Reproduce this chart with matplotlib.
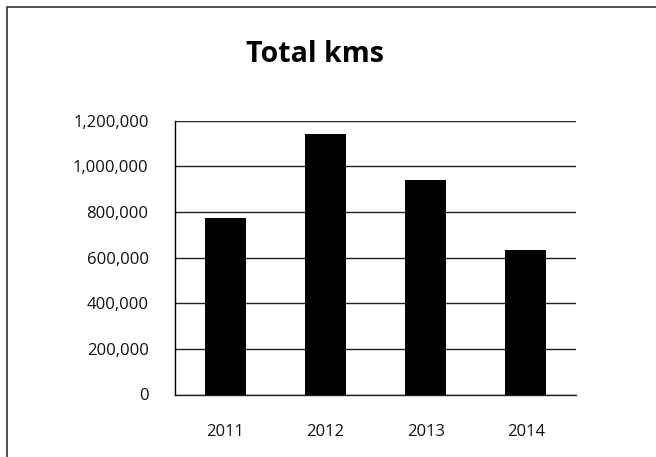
import matplotlib
matplotlib.use("Agg")
import matplotlib.pyplot as plt
from matplotlib.patches import Rectangle
from matplotlib.ticker import FuncFormatter

plt.rcParams['font.family'] = ['Open Sans', 'DejaVu Sans']

# yearly totals
years = ['2011', '2012', '2013', '2014']
total_kms = [775000, 1140000, 940000, 635000]
y_ticks = [0, 200000, 400000, 600000, 800000, 1000000, 1200000]

W, H = 656, 457
fig = plt.figure(figsize=(W / 100, H / 100), dpi=100)

# chart frame, only top and left edges are inside the canvas
fig.add_artist(Rectangle((7 / W, -0.1), 1.2, 1 - 7 / H + 0.1,
                         transform=fig.transFigure, fill=False,
                         edgecolor='#333333', linewidth=1.2))

ax = fig.add_axes([175 / W, 1 - 394.5 / H, (576 - 175) / W, (394.5 - 120.7) / H])

x = range(len(years))
ax.bar(x, total_kms, width=0.41, color='black', zorder=3)

ax.set_xlim(-0.5, 3.5)
ax.set_ylim(0, 1200000)
ax.set_yticks(y_ticks)
ax.yaxis.set_major_formatter(FuncFormatter(lambda v, p: f'{int(v):,}'))
ax.set_xticks(list(x))
ax.set_xticklabels(years)

ax.grid(axis='y', color='#222222', linewidth=1.0, zorder=0)
ax.tick_params(axis='both', length=0, labelsize=12, colors='#111111')
ax.tick_params(axis='y', pad=19)
ax.tick_params(axis='x', pad=21)

for s in ['top', 'right']:
    ax.spines[s].set_visible(False)
ax.spines['left'].set_color('black')
ax.spines['bottom'].set_color('#222222')
ax.spines['left'].set_linewidth(1.0)
ax.spines['bottom'].set_linewidth(1.0)

fig.text(315.5 / W, 1 - 55 / H, 'Total kms', ha='center', va='center',
         fontsize=20.5, fontweight='bold')

fig.savefig('out.png', dpi=100)
